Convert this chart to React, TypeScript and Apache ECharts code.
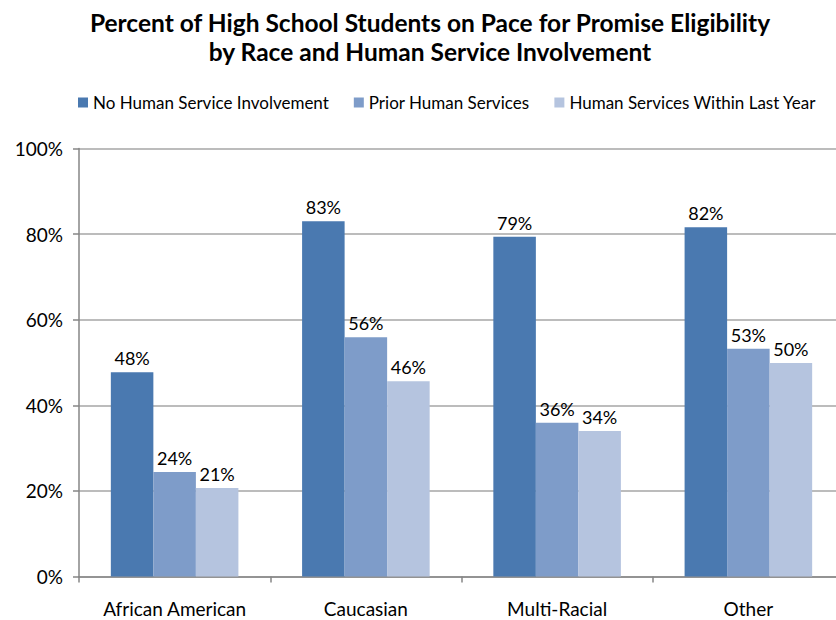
import React, { useEffect, useRef } from "react";
import * as echarts from "echarts";

const categories = ["African American", "Caucasian", "Multi-Racial", "Other"];
const seriesNames = [
  "No Human Service Involvement",
  "Prior Human Services",
  "Human Services Within Last Year",
];
const noInvolvement = [47.7, 83.0, 79.4, 81.6];
const priorServices = [24.4, 55.9, 35.9, 53.2];
const withinLastYear = [20.7, 45.6, 34.0, 49.9];
const yTicks = [0, 20, 40, 60, 80, 100];
const colors = ["#4a79b0", "#7e9cc9", "#b5c4df"];

const FONT = "Lato, 'Open Sans', sans-serif";

export default function App() {
  const ref = useRef<HTMLDivElement>(null);
  useEffect(() => {
    if (!ref.current) return;
    const chart = echarts.init(ref.current, undefined, { renderer: "svg" });
    const data = [noInvolvement, priorServices, withinLastYear];
    chart.setOption({
      animation: false,
      backgroundColor: "#ffffff",
      textStyle: { fontFamily: FONT },
      title: {
        text: "Percent of High School Students on Pace for Promise Eligibility\nby Race and Human Service Involvement",
        left: 425,
        top: 3,
        textAlign: "center",
        textStyle: {
          fontFamily: FONT,
          fontWeight: "bold",
          fontSize: 24.5,
          lineHeight: 29,
          color: "#000",
        },
      },
      legend: {
        left: 73,
        top: 89,
        itemWidth: 10,
        itemHeight: 10,
        itemGap: 25,
        icon: "rect",
        textStyle: { fontFamily: FONT, fontSize: 17, color: "#000" },
        data: seriesNames,
      },
      grid: { left: 79, top: 148.5, width: 765, height: 428, containLabel: false },
      xAxis: {
        type: "category",
        data: categories,
        axisLine: { lineStyle: { color: "#868686", width: 1.5 } },
        axisTick: { show: true, length: 6, lineStyle: { color: "#868686", width: 1.5 } },
        axisLabel: { fontFamily: FONT, fontSize: 19, color: "#000", margin: 22 },
      },
      yAxis: {
        type: "value",
        min: yTicks[0],
        max: yTicks[yTicks.length - 1],
        interval: 20,
        axisLine: { show: true, lineStyle: { color: "#868686", width: 1.5 } },
        axisTick: { show: true, length: 6, lineStyle: { color: "#868686", width: 1.5 } },
        axisLabel: { fontFamily: FONT, fontSize: 19, color: "#000", margin: 16, formatter: "{value}%" },
        splitLine: { lineStyle: { color: "#a6a6a6", width: 1.5 } },
      },
      series: seriesNames.map((name, i) => ({
        name,
        type: "bar",
        data: data[i],
        barGap: "0%",
        barCategoryGap: "33.3%",
        itemStyle: { color: colors[i] },
        label: {
          show: true,
          position: "top",
          distance: 5,
          fontFamily: FONT,
          fontSize: 18,
          color: "#000",
          formatter: (p: any) => Math.round(p.value) + "%",
        },
      })),
    });
    return () => chart.dispose();
  }, []);
  return (
    <div style={{ position: "absolute", left: 0, top: 0, width: 836, height: 620, overflow: "hidden", background: "#fff" }}>
      <div ref={ref} style={{ width: 850, height: 620 }} />
    </div>
  );
}
